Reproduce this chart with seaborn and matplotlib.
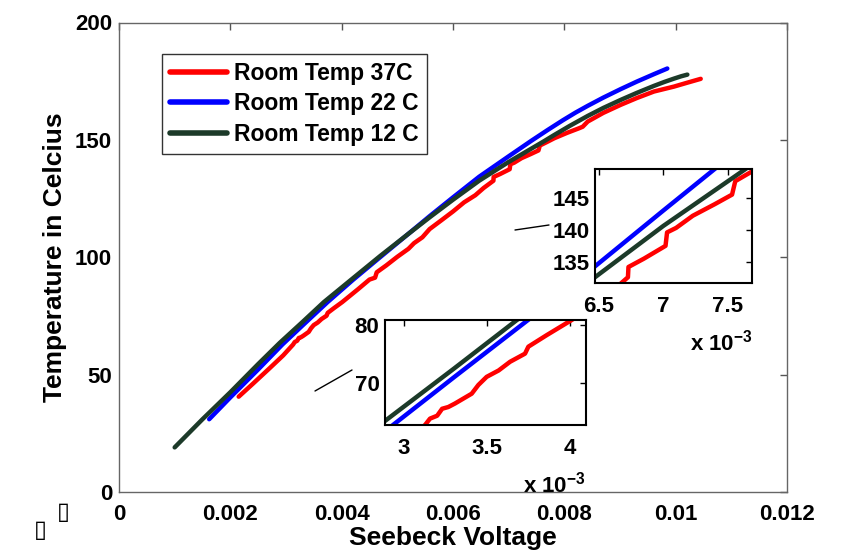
import numpy as np
import pandas as pd
import matplotlib
matplotlib.use("Agg")
import matplotlib.pyplot as plt
import seaborn as sns
from matplotlib.lines import Line2D
from matplotlib.ticker import FuncFormatter

# Seebeck voltage in units of 1e-3 V, temperature in Celcius
temp37_v = [2.15, 2.4, 2.7, 2.95, 3.127, 3.157, 3.2, 3.23, 3.267, 3.307, 3.408, 3.448,
            3.498, 3.57, 3.639, 3.729, 3.749, 3.86, 4.01, 4.15, 4.3, 4.5, 4.6, 4.63,
            4.8, 5.0, 5.2, 5.3, 5.45, 5.58, 5.8, 6.0, 6.2, 6.4, 6.55, 6.675, 6.726,
            6.73, 6.85, 7.018, 7.03, 7.1, 7.23, 7.4, 7.535, 7.56, 7.68, 7.82, 8.05,
            8.27, 8.33, 8.42, 8.7, 9.01, 9.3, 9.61, 9.97, 10.2, 10.45]
temp37_t = [40.6, 46.0, 52.6, 58.2, 62.8, 63.9, 64.4, 65.6, 65.9, 66.5, 68.2, 69.7,
            71.1, 72.2, 73.7, 75.1, 76.3, 78.3, 80.9, 83.6, 86.5, 90.5, 91.3, 93.6,
            96.5, 100.2, 103.6, 106.0, 108.5, 112.0, 115.9, 119.5, 123.4, 126.4, 129.5,
            131.7, 132.6, 134.2, 135.5, 137.5, 139.6, 140.3, 142.2, 144.0, 145.5, 147.6,
            149.0, 150.7, 153.0, 155.0, 155.6, 157.8, 161.5, 164.9, 167.8, 170.6, 172.7,
            174.3, 176.0]

temp22_v = [1.62, 2.0, 2.5, 2.934, 3.3, 3.747, 4.2, 4.69, 5.2, 5.58, 6.0, 6.47, 7.0,
            7.4, 7.7, 7.97, 8.2, 8.42, 8.7, 9.01, 9.3, 9.61, 9.85]
temp22_t = [31.0, 40.3, 52.2, 62.8, 71.0, 80.9, 90.3, 100.0, 110.0, 117.5, 125.5,
            134.3, 143.0, 149.5, 154.2, 158.3, 161.6, 164.5, 168.0, 171.6, 174.8,
            178.0, 180.4]

temp12_v = [1.0, 1.5, 2.0, 2.5, 2.886, 3.3, 3.68, 4.2, 4.69, 5.2, 5.58, 6.0, 6.47,
            7.0, 7.64, 7.82, 8.1, 8.42, 8.7, 9.01, 9.3, 9.61, 9.8, 9.97, 10.1, 10.21]
temp12_t = [19.0, 31.0, 42.5, 54.5, 63.5, 72.5, 80.9, 91.0, 100.5, 110.0, 117.0,
            124.5, 132.6, 140.6, 149.5, 152.1, 156.0, 160.2, 163.6, 167.0, 170.0,
            173.0, 174.7, 176.1, 177.1, 177.8]

series_names = ["Room Temp 37C", "Room Temp 22 C", "Room Temp 12 C"]
series_colors = ["#ff0000", "#0000ff", "#1c3a29"]

main_xticks = [0, 0.002, 0.004, 0.006, 0.008, 0.01, 0.012]
main_yticks = [0, 50, 100, 150, 200]
upper_xticks = [6.5e-3, 7e-3, 7.5e-3]
upper_yticks = [135, 140, 145]
lower_xticks = [3e-3, 3.5e-3, 4e-3]
lower_yticks = [70, 80]

# long table for seaborn
frames = []
for name, v, t in zip(series_names, [temp37_v, temp22_v, temp12_v],
                      [temp37_t, temp22_t, temp12_t]):
    frames.append(pd.DataFrame({"voltage": np.array(v) * 1e-3, "temp": t, "series": name}))
df = pd.concat(frames, ignore_index=True)
palette = dict(zip(series_names, series_colors))

sns.set_theme(style="white")
plt.rcParams["font.family"] = ["Liberation Sans", "DejaVu Sans"]
plt.rcParams["font.weight"] = "bold"
plt.rcParams["text.color"] = "black"
plt.rcParams["axes.labelcolor"] = "black"
plt.rcParams["xtick.color"] = "black"
plt.rcParams["ytick.color"] = "black"
plt.rcParams["mathtext.fontset"] = "custom"
plt.rcParams["mathtext.rm"] = "Liberation Sans:bold"
plt.rcParams["mathtext.bf"] = "Liberation Sans:bold"
plt.rcParams["mathtext.default"] = "bf"

W, H = 853, 551
fig = plt.figure(figsize=(W / 100, H / 100), dpi=100)


def draw_lines(axis, legend):
    sns.lineplot(data=df, x="voltage", y="temp", hue="series", hue_order=series_names,
                 palette=palette, sort=False, estimator=None, errorbar=None,
                 linewidth=3.2, ax=axis, legend=legend)
    axis.set_xlabel("")
    axis.set_ylabel("")


# main axes
ax = fig.add_axes([119 / W, 1 - 492 / H, 668 / W, 469.5 / H])
draw_lines(ax, True)
ax.set_xlim(0, 0.012)
ax.set_ylim(0, 200)
ax.set_xticks(main_xticks)
ax.set_yticks(main_yticks)
ax.xaxis.set_major_formatter(FuncFormatter(lambda v, p: f"{v:g}"))
ax.tick_params(direction="in", top=True, right=True, length=5, width=1,
               color="#555555", labelcolor="black", labelsize=16)
ax.tick_params(axis="x", pad=9)
ax.tick_params(axis="y", pad=5)
for s in ax.spines.values():
    s.set_color("#666666")
    s.set_linewidth(1)
ax.set_xlabel("Seebeck Voltage", fontsize=19, fontweight="bold", labelpad=0)
ax.set_ylabel("Temperature in Celcius", fontsize=19, fontweight="bold", labelpad=6)

handles, labels = ax.get_legend_handles_labels()
leg = ax.legend(handles, labels, loc="upper left", bbox_to_anchor=(0.064, 0.933),
                borderaxespad=0, fontsize=16.5, frameon=True, fancybox=False,
                edgecolor="black", handlelength=2.5, handletextpad=0.3,
                labelspacing=0.32, borderpad=0.35)
leg.get_frame().set_linewidth(1)
for line in leg.get_lines():
    line.set_linewidth(4)


def style_inset(axis, xlim, ylim, xticks, yticks):
    draw_lines(axis, False)
    axis.set_xlim(*xlim)
    axis.set_ylim(*ylim)
    axis.set_xticks(xticks)
    axis.set_yticks(yticks)
    axis.xaxis.set_major_formatter(FuncFormatter(lambda v, p: f"{v * 1e3:g}"))
    axis.tick_params(direction="in", top=True, right=True, length=4, width=1,
                     color="black", labelcolor="black", labelsize=16)
    axis.tick_params(axis="x", pad=9)
    axis.tick_params(axis="y", pad=4)
    for s in axis.spines.values():
        s.set_color("black")
        s.set_linewidth(1.5)


# upper zoom inset
ax_up = fig.add_axes([595 / W, 1 - 283 / H, 157 / W, 114 / H])
style_inset(ax_up, (6.47e-3, 7.69e-3), (131.7, 149.5), upper_xticks, upper_yticks)

# lower zoom inset
ax_lo = fig.add_axes([385 / W, 1 - 425 / H, 201 / W, 105 / H])
style_inset(ax_lo, (2.886e-3, 4.096e-3), (62.8, 80.9), lower_xticks, lower_yticks)

# multiplier texts
fig.text(690 / W, 1 - 350 / H, r"x 10$^{-3}$", fontsize=16, ha="left", va="baseline")
fig.text(523 / W, 1 - 492 / H, r"x 10$^{-3}$", fontsize=16, ha="left", va="baseline")

# pointer lines to the insets
fig.add_artist(Line2D([515 / W, 549 / W], [1 - 230 / H, 1 - 225 / H],
                      color="black", lw=1, transform=fig.transFigure))
fig.add_artist(Line2D([315 / W, 352 / W], [1 - 391 / H, 1 - 370 / H],
                      color="black", lw=1, transform=fig.transFigure))

# stray glyph boxes in the corner
fig.text(63 / W, 1 - 512 / H, "\u25af", fontsize=17, family="DejaVu Sans",
         ha="center", va="center")
fig.text(40 / W, 1 - 530 / H, "\u25af", fontsize=17, family="DejaVu Sans",
         ha="center", va="center")

fig.savefig("out.png", dpi=100)
